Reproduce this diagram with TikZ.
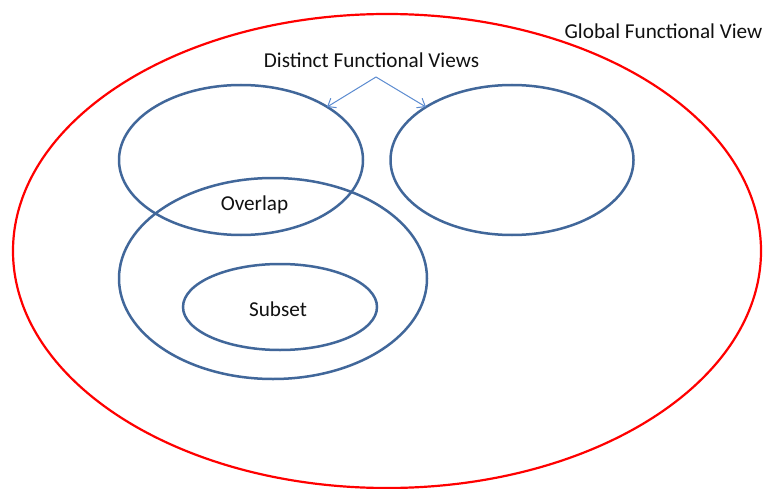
\documentclass[tikz,border=0pt]{standalone}
\usepackage{fontspec}
\setmainfont{Carlito}
\usetikzlibrary{shapes.geometric,arrows.meta}
\definecolor{viewblue}{HTML}{41679A}
\definecolor{arrowblue}{HTML}{5B8BD0}
\definecolor{globalred}{HTML}{FF0000}
\definecolor{labelgray}{HTML}{111111}
\tikzset{
  view/.style={ellipse, draw=viewblue, line width=2.5pt, inner sep=0pt},
  globalview/.style={ellipse, draw=globalred, line width=2.2pt, inner sep=0pt},
  label/.style={font=\fontsize{21.2}{25}\selectfont, text=labelgray, inner sep=0pt},
  pointer/.style={draw=arrowblue, line width=1pt, -{Straight Barb[length=7pt,width=11pt]}}
}
\begin{document}
\begin{tikzpicture}[x=1pt,y=-1pt]
  \useasboundingbox[fill=white] (0,0) rectangle (767,489);

  % overall view
  \node[globalview, minimum width=748pt, minimum height=474pt] (global) at (387,251) {};
  \node[label] (globaltxt) at (663.5,31) {Global Functional View};

  % two distinct views
  \node[view, minimum width=244pt, minimum height=150pt] (left) at (241,160) {};
  \node[view, minimum width=243pt, minimum height=150pt] (right) at (512,160) {};

  % overlapping view with nested subset
  \node[view, minimum width=308pt, minimum height=201pt] (lower) at (273,278.5) {};
  \node[view, minimum width=194pt, minimum height=86pt] (subset) at (280,307) {};

  \node[label] (overlaptxt) at (254.5,205) {Overlap};
  \node[label] (subsettxt) at (278,309) {Subset};

  % pointers to the distinct views
  \node[label] (distinct) at (371.5,60) {Distinct Functional Views};
  \coordinate (apex) at (376,77);
  \coordinate (lefttip) at (327,107);
  \coordinate (righttip) at (426,107);
  \draw[pointer] (apex) -- (lefttip);
  \draw[pointer] (apex) -- (righttip);
\end{tikzpicture}
\end{document}
